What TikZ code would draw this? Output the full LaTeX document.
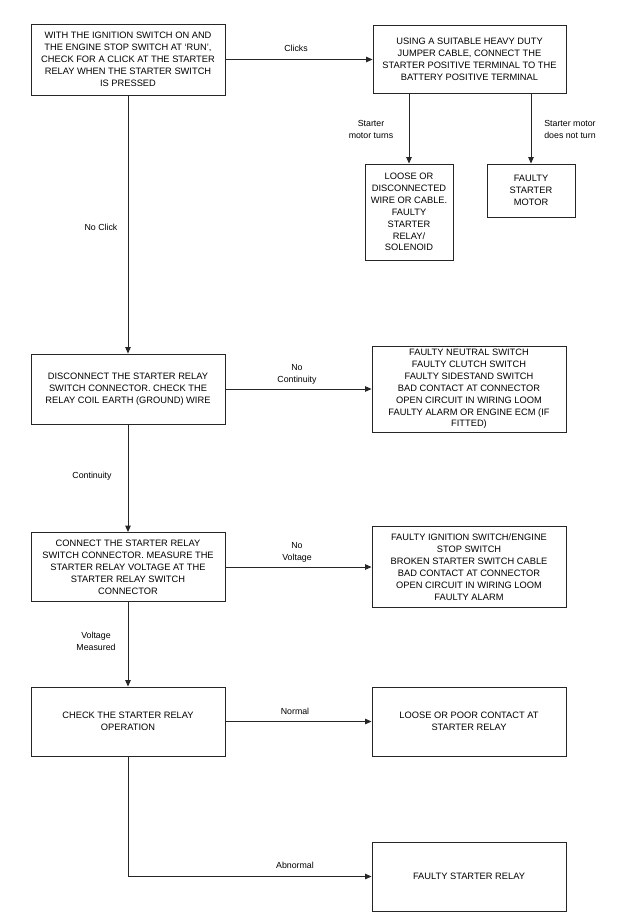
\documentclass[tikz,border=0pt]{standalone}
\usepackage{fontspec}
\setmainfont{Liberation Sans}
\usetikzlibrary{arrows.meta}
\newcommand{\boxfont}{\fontsize{9.3}{11.9}\selectfont}
\newcommand{\labfont}{\fontsize{8.8}{12}\selectfont}
\tikzset{
  box/.style={draw=black!85, line width=0.9pt, align=center, inner sep=0pt, font=\boxfont, text=black},
  lab/.style={align=center, inner sep=0pt, font=\labfont, text=black},
  conn/.style={draw=black!85, line width=0.9pt},
  arr/.style={conn, -{Triangle[length=6.5pt,width=5.5pt]}}
}
\begin{document}
\begin{tikzpicture}[x=1pt,y=-1pt]
\useasboundingbox (0,0) rectangle (616,918);
% boxes
\node[box, minimum width=194pt, minimum height=71pt] (b1) at (128,59.5) {WITH THE IGNITION SWITCH ON AND\\THE ENGINE STOP SWITCH AT `RUN',\\CHECK FOR A CLICK AT THE STARTER\\RELAY WHEN THE STARTER SWITCH\\IS PRESSED};
\node[box, minimum width=193pt, minimum height=68pt] (b2) at (469.5,59.5) {USING A SUITABLE HEAVY DUTY\\JUMPER CABLE, CONNECT THE\\STARTER POSITIVE TERMINAL TO THE\\BATTERY POSITIVE TERMINAL};
\node[box, minimum width=88pt, minimum height=96pt] (b3) at (409,212) {LOOSE OR\\DISCONNECTED\\WIRE OR CABLE.\\FAULTY\\STARTER\\RELAY/\\SOLENOID};
\node[box, minimum width=88pt, minimum height=53pt] (b4) at (531,190.5) {FAULTY\\STARTER\\MOTOR};
\node[box, minimum width=194pt, minimum height=70pt] (b5) at (128,389) {DISCONNECT THE STARTER RELAY\\SWITCH CONNECTOR. CHECK THE\\RELAY COIL EARTH (GROUND) WIRE};
\node[box, minimum width=194pt, minimum height=86pt] (b6) at (469,389) {FAULTY NEUTRAL SWITCH\\FAULTY CLUTCH SWITCH\\FAULTY SIDESTAND SWITCH\\BAD CONTACT AT CONNECTOR\\OPEN CIRCUIT IN WIRING LOOM\\FAULTY ALARM OR ENGINE ECM (IF\\FITTED)};
\node[box, minimum width=194pt, minimum height=69pt] (b7) at (128,567) {CONNECT THE STARTER RELAY\\SWITCH CONNECTOR. MEASURE THE\\STARTER RELAY VOLTAGE AT THE\\STARTER RELAY SWITCH\\CONNECTOR};
\node[box, minimum width=194pt, minimum height=81pt] (b8) at (469,567) {FAULTY IGNITION SWITCH/ENGINE\\STOP SWITCH\\BROKEN STARTER SWITCH CABLE\\BAD CONTACT AT CONNECTOR\\OPEN CIRCUIT IN WIRING LOOM\\FAULTY ALARM};
\node[box, minimum width=194pt, minimum height=69pt] (b9) at (128,721.5) {CHECK THE STARTER RELAY\\OPERATION};
\node[box, minimum width=194pt, minimum height=69pt] (b10) at (469,721.5) {LOOSE OR POOR CONTACT AT\\STARTER RELAY};
\node[box, minimum width=194pt, minimum height=69pt] (b11) at (469,876.5) {FAULTY STARTER RELAY};
% connectors
\draw[arr] (b1) -- (b2);
\draw[arr] (b2.south -| b3) -- (b3);
\draw[arr] (b2.south -| b4) -- (b4);
\draw[arr] (b1) -- (b5);
\draw[arr] (b5) -- (b6);
\draw[arr] (b5) -- (b7);
\draw[arr] (b7) -- (b8);
\draw[arr] (b7) -- (b9);
\draw[arr] (b9) -- (b10);
\draw[arr] (b9.south) |- (b11.west);
% labels
\node[lab] (l1) at (296,48) {Clicks};
\node[lab] (l2) at (371,129) {Starter\\motor turns};
\node[lab] (l3) at (570,129) {Starter motor\\does not turn};
\node[lab] (l4) at (101,227) {No Click};
\node[lab] (l5) at (297,374) {No\\Continuity};
\node[lab] (l6) at (92,476) {Continuity};
\node[lab] (l7) at (297,552) {No\\Voltage};
\node[lab] (l8) at (96,641.5) {Voltage\\Measured};
\node[lab] (l9) at (295,711) {Normal};
\node[lab] (l10) at (295,865) {Abnormal};
\end{tikzpicture}
\end{document}
